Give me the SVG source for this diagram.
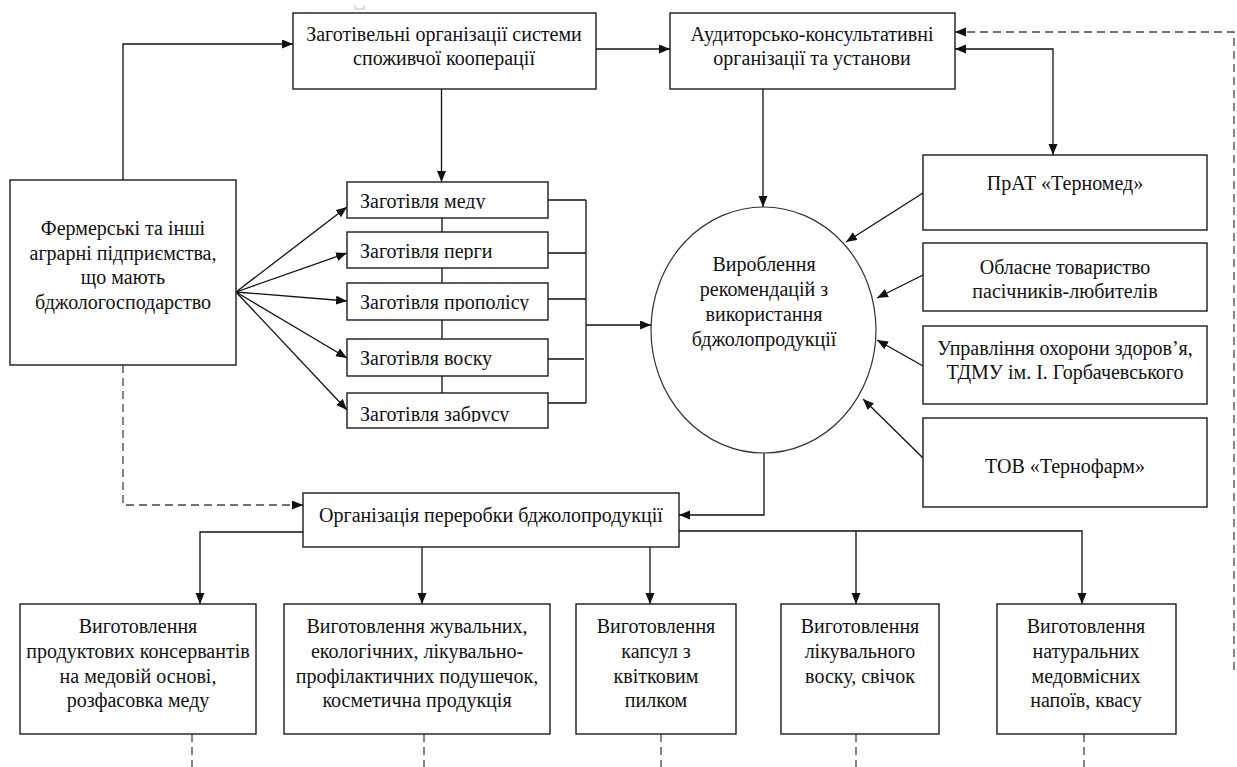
<svg xmlns="http://www.w3.org/2000/svg" width="1237" height="767" viewBox="0 0 1237 767">
<style>
.box{fill:#fff;stroke:#1a1a1a;stroke-width:1.4}
.ell{fill:#fff;stroke:#333;stroke-width:1.2}
.t{font-family:"Liberation Serif","Times New Roman",serif;font-size:20px;fill:#111}
.c{text-anchor:middle}
.ln{fill:none;stroke:#111;stroke-width:1.3}
.ds{fill:none;stroke:#444;stroke-width:1.3;stroke-dasharray:8 5}
</style>
<defs>
<marker id="ah" markerUnits="userSpaceOnUse" markerWidth="12" markerHeight="10" refX="11" refY="4.5" orient="auto-start-reverse">
<path d="M0,0 L11,4.5 L0,9 z" fill="#111"/>
</marker>
<clipPath id="clipHoney">
<rect x="347" y="182" width="201" height="27"/>
<rect x="347" y="232" width="201" height="28"/>
<rect x="347" y="283" width="201" height="28"/>
<rect x="347" y="339" width="201" height="37"/>
<rect x="347" y="393" width="201" height="29"/>
</clipPath>
</defs>
<rect width="1237" height="767" fill="#fff"/>
<path d="M355,5 V9 H364 V5" fill="none" stroke="#bbb" stroke-width="1"/>

<g id="connectors">
<path class="ln" d="M123,180 V44 H293" marker-end="url(#ah)"/>
<path class="ln" d="M596,49 H670" marker-end="url(#ah)"/>
<path class="ln" d="M441.5,89 V182" marker-end="url(#ah)"/>
<path class="ln" d="M442,218 V232 M442,268 V283 M442,320 V339 M442,376 V393"/>
<path class="ln" d="M236,292 L347,207" marker-end="url(#ah)"/>
<path class="ln" d="M236,292 L347,253" marker-end="url(#ah)"/>
<path class="ln" d="M236,292 L347,301" marker-end="url(#ah)"/>
<path class="ln" d="M236,292 L347,358" marker-end="url(#ah)"/>
<path class="ln" d="M236,292 L347,410" marker-end="url(#ah)"/>
<path class="ln" d="M548,200 H586 M548,253 H586 M548,299 H586 M548,359 H584 M548,403 H586 M586,200 V403"/>
<path class="ln" d="M586,325 H651" marker-end="url(#ah)"/>
<path class="ln" d="M763,89 V207" marker-end="url(#ah)"/>
<path class="ln" d="M955,49 H1053 V155" marker-start="url(#ah)" marker-end="url(#ah)"/>
<path class="ds" d="M1234,670 V32 H955" marker-end="url(#ah)"/>
<path class="ln" d="M923,193 L846,242" marker-end="url(#ah)"/>
<path class="ln" d="M923,275 L877,298" marker-end="url(#ah)"/>
<path class="ln" d="M923,366 L877,340" marker-end="url(#ah)"/>
<path class="ln" d="M923,458 L863,399" marker-end="url(#ah)"/>
<path class="ln" d="M764,453 V515 H679" marker-end="url(#ah)"/>
<path class="ds" d="M123,365 V505 H303" marker-end="url(#ah)"/>
<path class="ln" d="M303,532 H200 V604" marker-end="url(#ah)"/>
<path class="ln" d="M422,547 V604" marker-end="url(#ah)"/>
<path class="ln" d="M650,547 V604" marker-end="url(#ah)"/>
<path class="ln" d="M679,531 H1082 V604" marker-end="url(#ah)"/>
<path class="ln" d="M856,531 V604" marker-end="url(#ah)"/>
<path class="ds" d="M192,734 V767 M424,734 V767 M661,734 V767 M856,734 V767 M1084,734 V767"/>
</g>

<g id="nodeA">
<rect class="box" x="293" y="13" width="303" height="76"/>
<text class="t c" x="444" y="41">Заготівельні організації системи</text>
<text class="t c" x="444" y="65">споживчої кооперації</text>
</g>
<g id="nodeB">
<rect class="box" x="670" y="13" width="285" height="76"/>
<text class="t c" x="812" y="41">Аудиторсько-консультативні</text>
<text class="t c" x="812" y="65">організації та установи</text>
</g>
<g id="nodeC">
<rect class="box" x="10" y="180" width="226" height="185"/>
<text class="t c" x="123" y="235">Фермерські та інші</text>
<text class="t c" x="123" y="260">аграрні підприємства,</text>
<text class="t c" x="123" y="284">що мають</text>
<text class="t c" x="123" y="309">бджологосподарство</text>
</g>
<g id="honey">
<rect class="box" x="347" y="182" width="201" height="36"/>
<rect class="box" x="347" y="232" width="201" height="36"/>
<rect class="box" x="347" y="283" width="201" height="37"/>
<rect class="box" x="347" y="339" width="201" height="37"/>
<rect class="box" x="347" y="393" width="201" height="35"/>
<g clip-path="url(#clipHoney)">
<text class="t" x="360" y="208">Заготівля меду</text>
<text class="t" x="360" y="258">Заготівля перги</text>
<text class="t" x="360" y="309">Заготівля прополісу</text>
<text class="t" x="360" y="365">Заготівля воску</text>
<text class="t" x="360" y="421">Заготівля забрусу</text>
</g>
</g>
<g id="nodeEllipse">
<ellipse class="ell" cx="763.5" cy="330" rx="112.5" ry="123"/>
<text class="t c" x="764" y="271">Вироблення</text>
<text class="t c" x="764" y="296">рекомендацій з</text>
<text class="t c" x="764" y="321">використання</text>
<text class="t c" x="764" y="346">бджолопродукції</text>
</g>
<g id="nodeTernomed">
<rect class="box" x="923" y="155" width="284" height="75"/>
<text class="t c" x="1065" y="190">ПрАТ «Терномед»</text>
</g>
<g id="nodeSociety">
<rect class="box" x="923" y="243" width="284" height="68"/>
<text class="t c" x="1065" y="274">Обласне товариство</text>
<text class="t c" x="1065" y="298">пасічників-любителів</text>
</g>
<g id="nodeHealth">
<rect class="box" x="923" y="326" width="284" height="78"/>
<text class="t c" x="1065" y="355">Управління охорони здоров’я,</text>
<text class="t c" x="1065" y="379">ТДМУ ім. І. Горбачевського</text>
</g>
<g id="nodeTernofarm">
<rect class="box" x="923" y="418" width="284" height="89"/>
<text class="t c" x="1065" y="473">ТОВ «Тернофарм»</text>
</g>
<g id="nodeD">
<rect class="box" x="303" y="493" width="376" height="54"/>
<text class="t c" x="491" y="522">Організація переробки бджолопродукції</text>
</g>
<g id="nodeP1">
<rect class="box" x="20" y="604" width="236" height="130"/>
<text class="t c" x="138" y="633">Виготовлення</text>
<text class="t c" x="138" y="658">продуктових консервантів</text>
<text class="t c" x="138" y="683">на медовій основі,</text>
<text class="t c" x="138" y="707">розфасовка меду</text>
</g>
<g id="nodeP2">
<rect class="box" x="284" y="604" width="266" height="130"/>
<text class="t c" x="417" y="633">Виготовлення жувальних,</text>
<text class="t c" x="417" y="658">екологічних, лікувально-</text>
<text class="t c" x="417" y="683">профілактичних подушечок,</text>
<text class="t c" x="417" y="707">косметична продукція</text>
</g>
<g id="nodeP3">
<rect class="box" x="576" y="604" width="160" height="130"/>
<text class="t c" x="656" y="633">Виготовлення</text>
<text class="t c" x="656" y="658">капсул з</text>
<text class="t c" x="656" y="683">квітковим</text>
<text class="t c" x="656" y="707">пилком</text>
</g>
<g id="nodeP4">
<rect class="box" x="781" y="604" width="158" height="130"/>
<text class="t c" x="860" y="633">Виготовлення</text>
<text class="t c" x="860" y="658">лікувального</text>
<text class="t c" x="860" y="683">воску, свічок</text>
</g>
<g id="nodeP5">
<rect class="box" x="997" y="604" width="179" height="130"/>
<text class="t c" x="1086" y="633">Виготовлення</text>
<text class="t c" x="1086" y="658">натуральних</text>
<text class="t c" x="1086" y="683">медовмісних</text>
<text class="t c" x="1086" y="707">напоїв, квасу</text>
</g>
</svg>
